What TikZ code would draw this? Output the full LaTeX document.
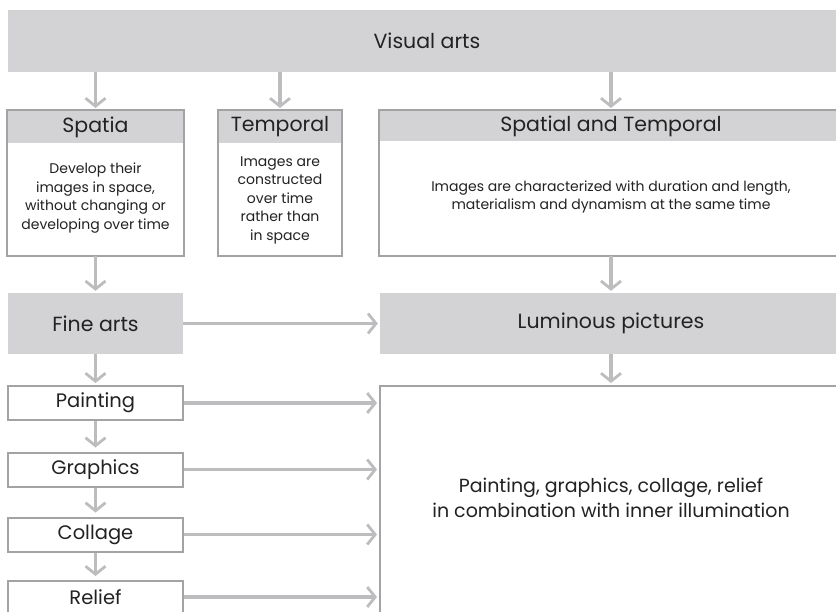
\documentclass[tikz,border=0pt]{standalone}
\usepackage{fontspec}
\setmainfont{Poppins}
\usetikzlibrary{arrows.meta}
\definecolor{boxgray}{HTML}{D3D3D5}
\definecolor{edgegray}{HTML}{A3A3A5}
\definecolor{arrowgray}{HTML}{BDBDBF}
\definecolor{txt}{HTML}{222222}
\begin{document}
\begin{tikzpicture}[x=1pt,y=-1pt,
  graybox/.style={fill=boxgray,draw=none,inner sep=0pt,text=txt,font=\fontsize{20.5}{24}\selectfont},
  framebox/.style={draw=edgegray,line width=2pt,fill=white,inner sep=0pt},
  labelbox/.style={draw=edgegray,line width=2pt,fill=white,inner sep=0pt,minimum width=175pt,minimum height=34pt,text=txt,font=\fontsize{19.5}{22}\selectfont},
  bodytext/.style={align=center,text=txt,inner sep=0pt,font=\fontsize{14}{18.5}\selectfont},
  arr/.style={draw=arrowgray,line width=3.2pt,-{Straight Barb[length=8pt,width=20pt,line width=2.8pt]},shorten >=2pt}
]
\useasboundingbox (0,0) rectangle (836,611);
% top
\node[graybox,minimum width=838pt,minimum height=62pt] (va) at (427,41) {Visual arts};
% Spatia
\node[framebox,draw=none,minimum width=175pt,minimum height=144pt] (sp) at (95.5,183) {};
\node[graybox,minimum width=175pt,minimum height=32pt] (spH) at (95.5,127) {Spatia};
\node[bodytext] (spB) at (95.5,198) {Develop their\\images in space,\\without changing or\\developing over time};
\draw[edgegray,line width=2pt] (sp.north west) rectangle (sp.south east);
% Temporal
\node[framebox,draw=none,minimum width=122pt,minimum height=144pt] (te) at (280,183) {};
\node[graybox,minimum width=122pt,minimum height=32pt] (teH) at (280,127) {Temporal};
\node[bodytext] (teB) at (280,200) {Images are\\constructed\\over time\\rather than\\in space};
\draw[edgegray,line width=2pt] (te.north west) rectangle (te.south east);
% Spatial and Temporal
\node[framebox,draw=none,minimum width=462pt,minimum height=144pt] (st) at (611,183) {};
\node[graybox,minimum width=462pt,minimum height=30pt] (stH) at (611,126) {Spatial and Temporal};
\node[bodytext] (stB) at (611,197) {Images are characterized with duration and length,\\materialism and dynamism at the same time};
\draw[edgegray,line width=2pt] (st.north west) rectangle (st.south east);
% second row
\node[graybox,minimum width=175pt,minimum height=61pt] (fa) at (95.5,323.5) {Fine arts};
\node[graybox,minimum width=462pt,minimum height=61pt] (lp) at (611,323.5) {Luminous pictures};
% left column
\node[labelbox] (pa) at (95.5,403) {Painting};
\node[labelbox] (gr) at (95.5,469.5) {Graphics};
\node[labelbox] (co) at (95.5,534.5) {Collage};
\node[labelbox,minimum height=32pt] (re) at (95.5,597) {Relief};
% big box
\node[framebox,minimum width=462pt,minimum height=234pt] (bb) at (611,503) {};
\node[bodytext,font=\fontsize{19}{25}\selectfont] (bbT) at (611,498) {Painting, graphics, collage, relief\\in combination with inner illumination};
% arrows
\draw[arr] (va.south -| sp.north) -- (sp.north);
\draw[arr] (va.south -| te.north) -- (te.north);
\draw[arr] (va.south -| st.north) -- (st.north);
\draw[arr] (sp.south) -- (fa.north);
\draw[arr] (st.south) -- (lp.north);
\draw[arr] (fa.east) -- (lp.west);
\draw[arr] (fa.south) -- (pa.north);
\draw[arr] (lp.south) -- (lp.south |- bb.north);
\draw[arr,shorten >=4pt] (pa.south) -- (gr.north);
\draw[arr,shorten >=4pt] (gr.south) -- (co.north);
\draw[arr,shorten >=4pt] (co.south) -- (re.north);
\draw[arr] (pa.east) -- (pa.east -| bb.west);
\draw[arr] (gr.east) -- (gr.east -| bb.west);
\draw[arr] (co.east) -- (co.east -| bb.west);
\draw[arr] (re.east) -- (re.east -| bb.west);
\end{tikzpicture}
\end{document}
